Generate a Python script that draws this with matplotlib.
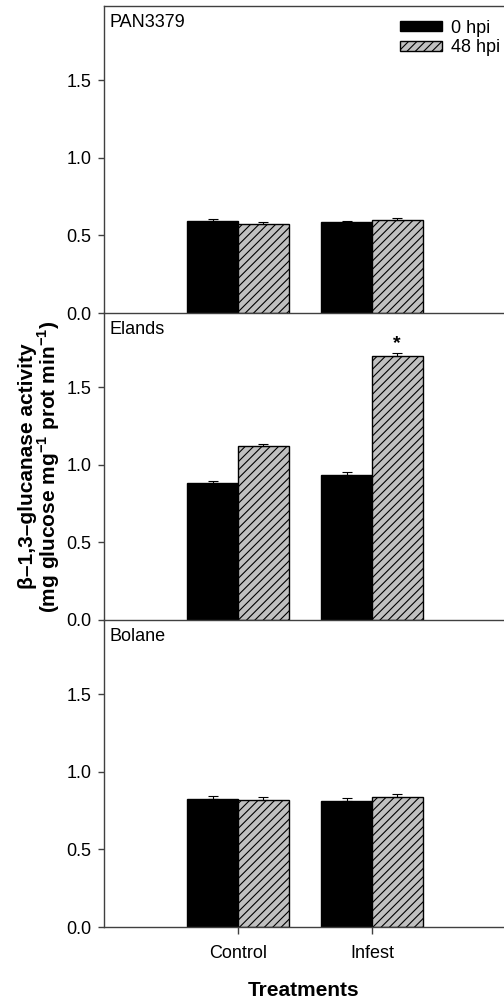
import numpy as np
import matplotlib
matplotlib.use("Agg")
import matplotlib.pyplot as plt
from matplotlib.patches import Patch

plt.rcParams["font.family"] = ["Liberation Sans", "DejaVu Sans"]
plt.rcParams["mathtext.fontset"] = "custom"
plt.rcParams["mathtext.rm"] = "Liberation Sans"
plt.rcParams["mathtext.bf"] = "Liberation Sans:bold"
plt.rcParams["hatch.linewidth"] = 0.8

treatments = ["Control", "Infest"]
cultivars = ["PAN3379", "Elands", "Bolane"]

# mean activity per cultivar: [Control, Infest]
hpi0_means = [[0.594, 0.585], [0.882, 0.937], [0.824, 0.815]]
hpi48_means = [[0.574, 0.600], [1.121, 1.701], [0.817, 0.841]]
hpi0_err = [[0.013, 0.010], [0.017, 0.020], [0.020, 0.020]]
hpi48_err = [[0.011, 0.013], [0.017, 0.020], [0.020, 0.020]]
# significant differences (cultivar index, treatment index)
significant = [(1, 1)]

W, H = 504, 1001
fig = plt.figure(figsize=(W / 100, H / 100), dpi=100)

left, right = 104 / W, 1.0
panel_h = 307 / H
top_px = 6
x = np.arange(1, len(treatments) + 1)
bw = 0.377
line_col = "#404040"

axes = []
for i, name in enumerate(cultivars):
    bottom = 1 - (top_px + 307 * (i + 1)) / H
    ax = fig.add_axes([left, bottom, right - left, panel_h])
    ax.patch.set_visible(False)
    axes.append(ax)

    ax.bar(x - bw / 2, hpi0_means[i], bw, color="black", edgecolor="black",
           linewidth=1, zorder=2)
    ax.bar(x + bw / 2, hpi48_means[i], bw, color="#c0c0c0", edgecolor="black",
           hatch="////", linewidth=1, zorder=2)
    ax.errorbar(x - bw / 2, hpi0_means[i],
                yerr=[np.zeros(2), hpi0_err[i]], fmt="none",
                ecolor="black", elinewidth=0.8, capsize=3.5, capthick=0.8, zorder=3)
    ax.errorbar(x + bw / 2, hpi48_means[i],
                yerr=[np.zeros(2), hpi48_err[i]], fmt="none",
                ecolor="black", elinewidth=0.8, capsize=3.5, capthick=0.8, zorder=3)

    for ci, ti in significant:
        if ci == i:
            ax.annotate("*", (x[ti] + bw / 2, hpi48_means[i][ti] + hpi48_err[i][ti]),
                        xytext=(0, 1), textcoords="offset points",
                        ha="center", va="bottom", fontsize=14, fontweight="bold")

    ax.set_xlim(0, 400 / 134)
    ax.set_ylim(0, 1.98)
    ax.set_yticks([0.0, 0.5, 1.0, 1.5])
    ax.set_yticklabels(["0.0", "0.5", "1.0", "1.5"])
    ax.tick_params(axis="y", direction="out", length=4, width=1,
                   color=line_col, labelsize=13, pad=5)
    ax.spines["right"].set_visible(False)
    for s in ["left", "bottom", "top"]:
        ax.spines[s].set_color(line_col)
        ax.spines[s].set_linewidth(1)
    if i > 0:
        ax.spines["top"].set_visible(False)
    ax.annotate(name, (0, 1), xycoords="axes fraction", xytext=(4, -12),
                textcoords="offset points", ha="left", va="center", fontsize=13)

    if i < len(cultivars) - 1:
        ax.set_xticks([])
    else:
        ax.set_xticks(x)
        ax.set_xticklabels(treatments)
        ax.tick_params(axis="x", direction="out", length=5, width=1,
                       color=line_col, labelsize=13, pad=8)
        ax.set_xlabel("Treatments", fontsize=15, fontweight="bold", labelpad=14)

axes[1].set_ylabel("β–1,3–glucanase activity\n"
                   "(mg glucose mg$^{\\mathbf{-1}}$ prot min$^{\\mathbf{-1}}$)",
                   fontsize=15, fontweight="bold", labelpad=3, linespacing=0.95)

handles = [Patch(facecolor="black", edgecolor="black"),
           Patch(facecolor="#c0c0c0", edgecolor="black", hatch="////")]
axes[0].legend(handles, ["0 hpi", "48 hpi"], loc="upper right",
               bbox_to_anchor=(1.012, 0.985), frameon=False, fontsize=13,
               handlelength=2.3, handleheight=0.5, handletextpad=0.5,
               labelspacing=0.15, borderaxespad=0.1, borderpad=0.4)

fig.savefig("out.png", dpi=100)
